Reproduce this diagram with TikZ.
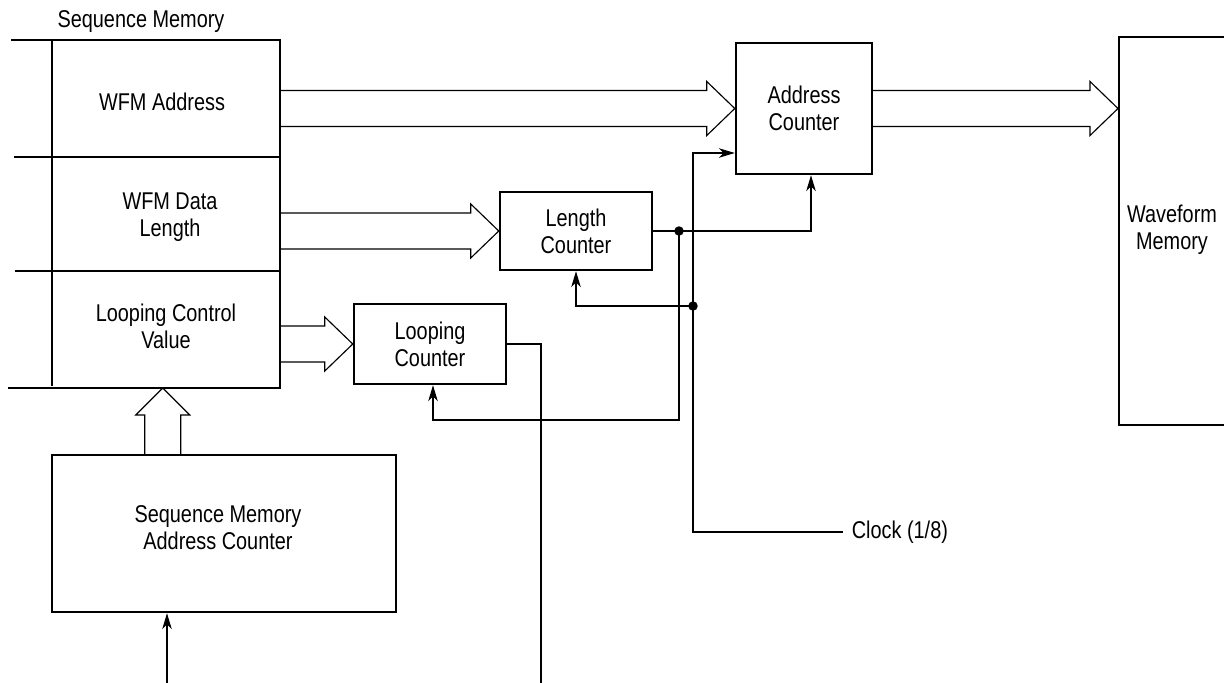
\documentclass[tikz,border=0pt]{standalone}
\usepackage{fontspec}
\setmainfont{Liberation Sans}[FakeStretch=0.82]
\usetikzlibrary{calc}
\usetikzlibrary{arrows.meta}
\usetikzlibrary{positioning}

\tikzset{
  blk/.style 2 args={draw, line width=1.4pt, minimum width={#1*0.02cm},
    minimum height={#2*0.02cm}, inner sep=0pt, align=center,
    font=\fontsize{13.8}{15.5}\selectfont},
  lbl/.style={align=center, font=\fontsize{13.8}{15.5}\selectfont},
  sig/.style={line width=0.65pt},
  arr/.style={-{Stealth[length=9pt,width=5.4pt,inset=2.6pt]}},
  bus/.style={line width=0.65pt, line join=miter},
  dot/.style={circle, fill, inner sep=0pt, minimum size=5.4pt},
}

% hollow bus arrows: #1 start point, #2 tip point
\newcommand{\busright}[2]{%
  \draw[bus] ($#1+(0,-18)$) -- ($#2+(-28,-18)$) -- ($#2+(-28,-27)$) -- #2
    -- ($#2+(-28,27)$) -- ($#2+(-28,18)$) -- ($#1+(0,18)$);}
\newcommand{\busup}[2]{%
  \draw[bus] ($#1+(-18,0)$) -- ($#2+(-18,27)$) -- ($#2+(-27,27)$) -- #2
    -- ($#2+(27,27)$) -- ($#2+(18,27)$) -- ($#1+(18,0)$);}

\begin{document}
\begin{tikzpicture}[x=0.02cm, y=-0.02cm]
  \useasboundingbox (0,0) rectangle (1224,683);

  % sequence memory
  \coordinate (smtl) at (11,40);
  \coordinate (smtr) at (280,40);
  \coordinate (smbr) at (280,388);
  \coordinate (smbl) at (8,388);
  \draw[line width=1.4pt] (smtl) -- (smtr) -- (smbr) -- (smbl);
  \draw[sig] (52,40) -- (52,386);
  \draw[sig] (14,157) -- (smtr |- 0,157);
  \draw[sig] (15,271) -- (smtr |- 0,271);
  \node[lbl] (smtitle) at (141,22) {Sequence Memory};
  \node[lbl] (wfmaddr) at (162,102) {WFM Address};
  \node[lbl] (wfmlen) at (170,217) {WFM Data\\Length};
  \node[lbl] (loopval) at (166,326) {Looping Control\\Value};

  % counters
  \node[blk={136}{131}] (addrctr) at (804,108.5) {Address\\Counter};
  \node[blk={152}{78}] (lenctr) at (576,231) {Length\\Counter};
  \node[blk={152}{80}] (loopctr) at (430,344) {Looping\\Counter};
  \node[blk={344}{157}] (smac) at (224,533.5) {};
  \node[lbl] (smactext) at (218,528) {Sequence Memory\\Address Counter};
  \node[blk={160}{388}, anchor=north west] (wfm) at (1118,36) {};
  \node[lbl] (wfmtext) at (1172,230) {Waveform\\Memory};

  % buses
  \busright{(smtr |- addrctr.west)}{(addrctr.west)}
  \busright{(addrctr.east)}{(wfm.west |- addrctr.east)}
  \busright{(smtr |- lenctr.west)}{(lenctr.west)}
  \busright{(smtr |- loopctr.west)}{(loopctr.west)}
  \coordinate (smin) at ($(smac.north west)+(112,0)$);
  \busup{(smin)}{(smin |- smbl)}

  % control lines
  \coordinate (j1) at (679,231);
  \coordinate (j2) at (693,306);
  \coordinate (clk) at (843,532);
  \draw[sig,arr] (lenctr.east) -- (j1) -| ($(addrctr.south)+(7,0)$);
  \draw[sig,arr] (j1) -- ++(0,189) -| ($(loopctr.south)+(3,0)$);
  \draw[sig,arr] (clk) -| (j2) |- ($(addrctr.west)+(0,44.5)$);
  \draw[sig,arr] (j2) -| (lenctr.south);
  \node[dot] (d1) at (j1) {};
  \node[dot] (d2) at (j2) {};
  \node[lbl, right=1.5pt of clk] (clklbl) {Clock (1/8)};

  \coordinate (loopout) at (541,683);
  \draw[sig] (loopctr.east) -| (loopout);
  \coordinate (smacin) at (167,683);
  \draw[sig,arr] (smacin) -- (smacin |- smac.south);
\end{tikzpicture}
\end{document}
